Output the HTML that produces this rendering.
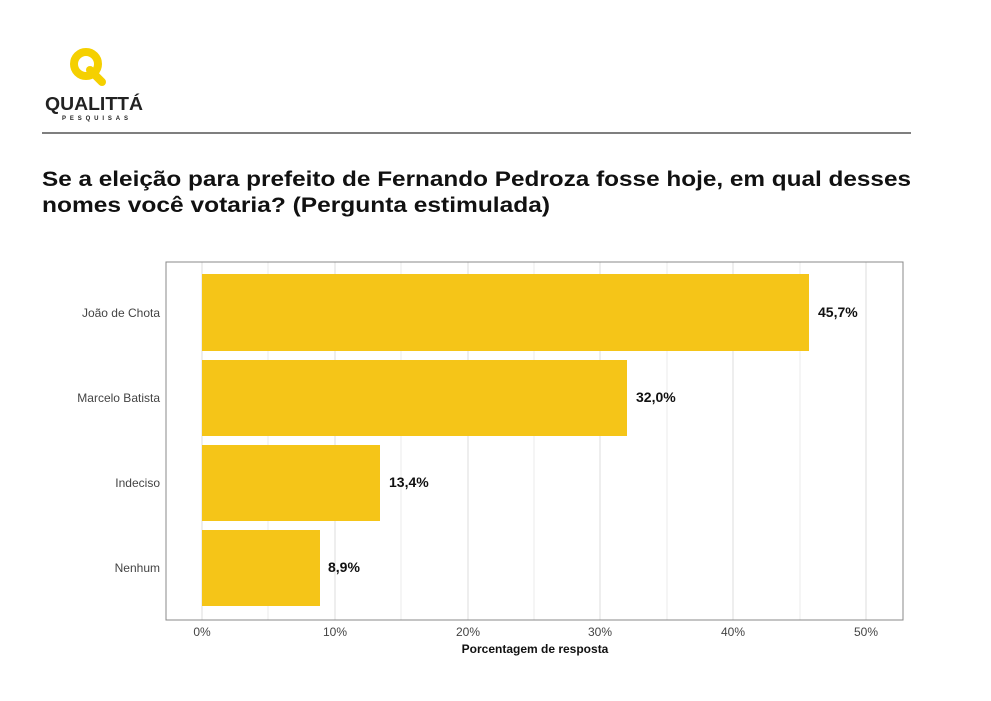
<!DOCTYPE html>
<html><head><meta charset="utf-8"><style>
body{margin:0;background:#fff;width:991px;height:696px;overflow:hidden;font-family:"Liberation Sans",sans-serif}
</style></head><body>
<svg width="991" height="696" xmlns="http://www.w3.org/2000/svg" font-family="Liberation Sans, sans-serif">
<circle cx="86" cy="64" r="12" fill="none" stroke="#f5d000" stroke-width="8"/>
<line x1="90" y1="70" x2="102" y2="82" stroke="#f5d000" stroke-width="8" stroke-linecap="round"/>
<text x="45" y="110" font-size="18" font-weight="bold" fill="#222" textLength="98" lengthAdjust="spacingAndGlyphs">QUALITTÁ</text>
<text x="62" y="120" font-size="6" font-weight="bold" fill="#222" textLength="66" lengthAdjust="spacing">PESQUISAS</text>
<line x1="42" y1="133" x2="911" y2="133" stroke="#555" stroke-width="1.5"/>
<text x="42" y="186" font-size="21" font-weight="bold" fill="#111" textLength="869" lengthAdjust="spacingAndGlyphs">Se a eleição para prefeito de Fernando Pedroza fosse hoje, em qual desses</text>
<text x="42" y="212" font-size="21" font-weight="bold" fill="#111" textLength="508" lengthAdjust="spacingAndGlyphs">nomes você votaria? (Pergunta estimulada)</text>
<g stroke="#ebebeb" stroke-width="1">
<line x1="268" y1="262" x2="268" y2="620"/><line x1="401" y1="262" x2="401" y2="620"/><line x1="534" y1="262" x2="534" y2="620"/><line x1="667" y1="262" x2="667" y2="620"/><line x1="800" y1="262" x2="800" y2="620"/>
</g>
<g stroke="#dcdcdc" stroke-width="1">
<line x1="202" y1="262" x2="202" y2="620"/><line x1="335" y1="262" x2="335" y2="620"/><line x1="468" y1="262" x2="468" y2="620"/><line x1="600" y1="262" x2="600" y2="620"/><line x1="733" y1="262" x2="733" y2="620"/><line x1="866" y1="262" x2="866" y2="620"/>
</g>
<g fill="#f5c518">
<rect x="202" y="274" width="607" height="77"/>
<rect x="202" y="360" width="425" height="76"/>
<rect x="202" y="445" width="178" height="76"/>
<rect x="202" y="530" width="118" height="76"/>
</g>
<rect x="166" y="262" width="737" height="358" fill="none" stroke="#888" stroke-width="1"/>
<g font-size="14" font-weight="bold" fill="#111">
<text x="818" y="317">45,7%</text><text x="636" y="402">32,0%</text><text x="389" y="487">13,4%</text><text x="328" y="572">8,9%</text>
</g>
<g font-size="12" fill="#444" text-anchor="end">
<text x="160" y="317">João de Chota</text><text x="160" y="402">Marcelo Batista</text><text x="160" y="487">Indeciso</text><text x="160" y="572">Nenhum</text>
</g>
<g font-size="12" fill="#444" text-anchor="middle">
<text x="202" y="636">0%</text><text x="335" y="636">10%</text><text x="468" y="636">20%</text><text x="600" y="636">30%</text><text x="733" y="636">40%</text><text x="866" y="636">50%</text>
</g>
<text x="535" y="653" font-size="12" font-weight="bold" fill="#111" text-anchor="middle">Porcentagem de resposta</text>
</svg>
</body></html>
